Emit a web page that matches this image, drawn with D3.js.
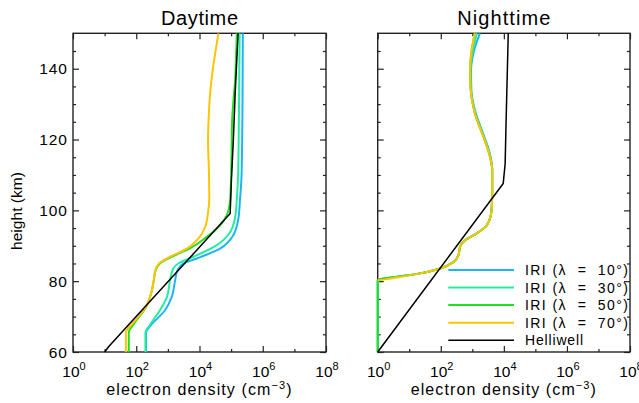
<!DOCTYPE html>
<html><head><meta charset="utf-8">
<script src="https://cdn.jsdelivr.net/npm/d3@7"></script>
<style>
body{margin:0;background:#fff}
text{font-family:"Liberation Sans",Arial,Helvetica,sans-serif;fill:#000}
</style>
</head><body>
<svg id="c" width="639" height="403"></svg>
<script>
// ---- data ----
const panelTitles = ["Daytime", "Nighttime"];
const xMajorTicks = [1e0, 1e2, 1e4, 1e6, 1e8];
const xMajorExps = ["0", "2", "4", "6", "8"];
const xMinorTicks = [1e1, 1e3, 1e5, 1e7];
const yMajorTicks = [60, 80, 100, 120, 140];
const yMinorTicks = [65, 70, 75, 85, 90, 95, 105, 110, 115, 125, 130, 135, 145];
const seriesNames = ["IRI (\u03bb\u00a0\u00a0=\u00a0\u00a010\u00b0)", "IRI (\u03bb\u00a0\u00a0=\u00a0\u00a030\u00b0)",
                     "IRI (\u03bb\u00a0\u00a0=\u00a0\u00a050\u00b0)", "IRI (\u03bb\u00a0\u00a0=\u00a0\u00a070\u00b0)", "Helliwell"];
const seriesColors = ["#1fb3f2", "#22eda2", "#1fe01f", "#ffc400", "#000000"];

// [height (km), electron density (cm^-3)]
const day10 = [[60,204],[65.5,204],[67.5,288],[71.8,813],[75.5,1320],[80.3,1700],[83.1,2000],[85,3090],[86.4,8130],
  [89.2,44700],[93,117500],[97.7,170000],[103,190500],[110,214000],[130,229000],[150,234000]];
const day30 = [[60,195],[65.5,195],[67.5,263],[71.8,562],[75.5,933],[80.3,1175],[83.6,1480],[85,2140],[86.9,6460],
  [90.2,35500],[93.9,93300],[98.2,135000],[103,151000],[110,166000],[130,178000],[150,186000]];
const day50 = [[60,58],[65.5,58],[68,85],[72.7,204],[76.5,295],[80,355],[83,407],[85,562],[87,1410],[89.2,4790],
  [92.5,17000],[95.8,44700],[98.6,72400],[103,93300],[110,100000],[120,104700],[125,107000],[137.6,135000],[150,151000]];
const day70 = [[60,47],[65.5,47],[68,76],[72.7,200],[76.5,295],[80,355],[83,400],[85,525],[86.9,1175],[89.2,3980],
  [92.1,9330],[95.3,15100],[100,19000],[103,20400],[110,20000],[120,18600],[126,19500],[133.5,21900],[141,27500],[150,39800]];
const dayHelliwell = [[60,10],[61.7,14],[99.1,93300],[108.5,102000],[119.8,117500],[133.5,135000],[150,166000]];

const night10 = [[60,1],[80.2,1],[82.2,22],[83.6,95],[85.4,251],[87.3,363],[89.7,407],[91.6,589],[93.5,1380],[95.8,2880],
  [100,4070],[105,4270],[111.4,4270],[115.1,3800],[120.8,2400],[127.4,1290],[134,933],[139.6,912],[145.3,1150],[150,1740]];
const night30 = [[60,1],[80.2,1],[82.2,22],[83.6,95],[85.4,251],[87.3,363],[89.7,407],[91.6,589],[93.5,1380],[95.8,2880],
  [100,4070],[105,4270],[111.4,4270],[115.1,3700],[120.8,2300],[127.4,1230],[134,900],[139.6,870],[145.3,1050],[150,1410]];
const night50 = [[60,1],[80.2,1],[82.2,22],[83.6,95],[85.4,251],[87.3,363],[89.7,407],[91.6,589],[93.5,1380],[95.8,2880],
  [100,4070],[105,4270],[111.4,4270],[115.1,3630],[120.8,2240],[127.4,1200],[134,891],[139.6,851],[145.3,955],[150,1200]];
const night70 = [[80.2,1],[82.2,22],[83.6,95],[85.4,251],[87.3,363],[89.7,407],[91.6,589],[93.5,1380],[95.8,2880],
  [100,4070],[105,4270],[111.4,4270],[115.1,3630],[120.8,2240],[127.4,1200],[134,891],[139.6,851],[145.3,955],[150,1200]];
const nightHelliwell = [[60,1],[107.6,9550],[113.2,11000],[124,11700],[150,13800]];

const panelSeries = [[day10, day30, day50, day70, dayHelliwell], [night10, night30, night50, night70, nightHelliwell]];

// ---- drawing ----
const svg = d3.select("#c");
const y = d3.scaleLinear().domain([60, 150]).range([352, 33.3]);
const xScales = [
  d3.scaleLog().domain([1, 1e8]).range([73, 326]),
  d3.scaleLog().domain([1, 1e8]).range([377.7, 630])
];

xScales.forEach((x, p) => {
  const [x0, x1] = x.range();
  const [yb, yt] = y.range();

  // frame + ticks
  const axG = svg.append("g").attr("class", "ax");
  const mk = (axis, tr) => {
    const a = axG.append("g").attr("transform", tr).call(axis);
    a.select(".domain").remove();
    a.selectAll("line").attr("stroke", "#222").attr("stroke-width", 1.2);
  };
  mk(d3.axisBottom(x).tickValues(xMajorTicks).tickSize(-6).tickFormat(""), `translate(0,${yb})`);
  mk(d3.axisBottom(x).tickValues(xMinorTicks).tickSize(-3).tickFormat(""), `translate(0,${yb})`);
  mk(d3.axisTop(x).tickValues(xMajorTicks).tickSize(-6).tickFormat(""), `translate(0,${yt})`);
  mk(d3.axisTop(x).tickValues(xMinorTicks).tickSize(-3).tickFormat(""), `translate(0,${yt})`);
  mk(d3.axisLeft(y).tickValues(yMajorTicks).tickSize(-6).tickFormat(""), `translate(${x0},0)`);
  mk(d3.axisLeft(y).tickValues(yMinorTicks).tickSize(-3).tickFormat(""), `translate(${x0},0)`);
  mk(d3.axisRight(y).tickValues(yMajorTicks).tickSize(-6).tickFormat(""), `translate(${x1},0)`);
  mk(d3.axisRight(y).tickValues(yMinorTicks).tickSize(-3).tickFormat(""), `translate(${x1},0)`);
  svg.append("rect").attr("x", x0).attr("y", yt).attr("width", x1 - x0).attr("height", yb - yt)
    .attr("fill", "none").attr("stroke", "#222").attr("stroke-width", 1.4);

  // curves (drawn over the frame, like the original)
  const clipId = "clip" + p;
  svg.append("clipPath").attr("id", clipId).append("rect")
    .attr("x", x0 - 1.5).attr("y", yt - 1).attr("width", x1 - x0 + 3).attr("height", yb - yt + 2);
  const g = svg.append("g").attr("clip-path", `url(#${clipId})`);
  const line = d3.line().x(d => x(d[1])).y(d => y(d[0])).curve(d3.curveMonotoneY);
  const lineLin = d3.line().x(d => x(d[1])).y(d => y(d[0]));
  panelSeries[p].forEach((s, i) => {
    g.append("path").datum(s)
      .attr("d", i === 4 ? lineLin : line)
      .attr("fill", "none")
      .attr("stroke", seriesColors[i])
      .attr("stroke-width", i === 4 ? 1.5 : 2)
      .attr("stroke-linejoin", "round");
  });

  // x tick labels
  xMajorTicks.forEach((v, i) => {
    const t = svg.append("text").attr("x", x(v) + 1).attr("y", 376.5)
      .attr("text-anchor", "middle").style("font-size", "15.5px");
    t.append("tspan").text("10");
    t.append("tspan").attr("dy", -7).style("font-size", "11px").text(xMajorExps[i]);
  });

  // x axis label
  const xl = svg.append("text").attr("x", (x0 + x1) / 2).attr("y", 395)
    .attr("text-anchor", "middle").style("font-size", "16px").style("letter-spacing", "1.1px");
  xl.append("tspan").text("electron density (cm");
  xl.append("tspan").attr("dy", -6).style("font-size", "11px").text("\u22123");
  xl.append("tspan").attr("dy", 6).text(")");

  // title
  svg.append("text").attr("x", (x0 + x1) / 2).attr("y", 25).attr("text-anchor", "middle")
    .attr("textLength", p === 0 ? 77 : 93).attr("lengthAdjust", "spacing")
    .style("font-size", "20px").text(panelTitles[p]);

  if (p === 0) {
    yMajorTicks.forEach(v => {
      svg.append("text").attr("x", 68).attr("y", y(v) + 5.5).attr("text-anchor", "end")
        .style("font-size", "15.5px").style("letter-spacing", "1px").text(v);
    });
    svg.append("text").attr("transform", `translate(22,211) rotate(-90)`)
      .attr("text-anchor", "middle").attr("textLength", 78).attr("lengthAdjust", "spacing")
      .style("font-size", "15.5px").text("height (km)");
  } else {
    // legend
    const rowY = [270, 287.5, 305, 322.7, 340.3];
    seriesNames.forEach((name, i) => {
      svg.append("line").attr("x1", 448.3).attr("x2", 514).attr("y1", rowY[i]).attr("y2", rowY[i])
        .attr("stroke", seriesColors[i]).attr("stroke-width", i === 4 ? 1.5 : 2);
      svg.append("text").attr("x", 525).attr("y", rowY[i] + 5)
        .attr("textLength", i === 4 ? 58 : 103).attr("lengthAdjust", "spacing")
        .style("font-size", "14px").text(name);
    });
  }
});
</script>
</body></html>
